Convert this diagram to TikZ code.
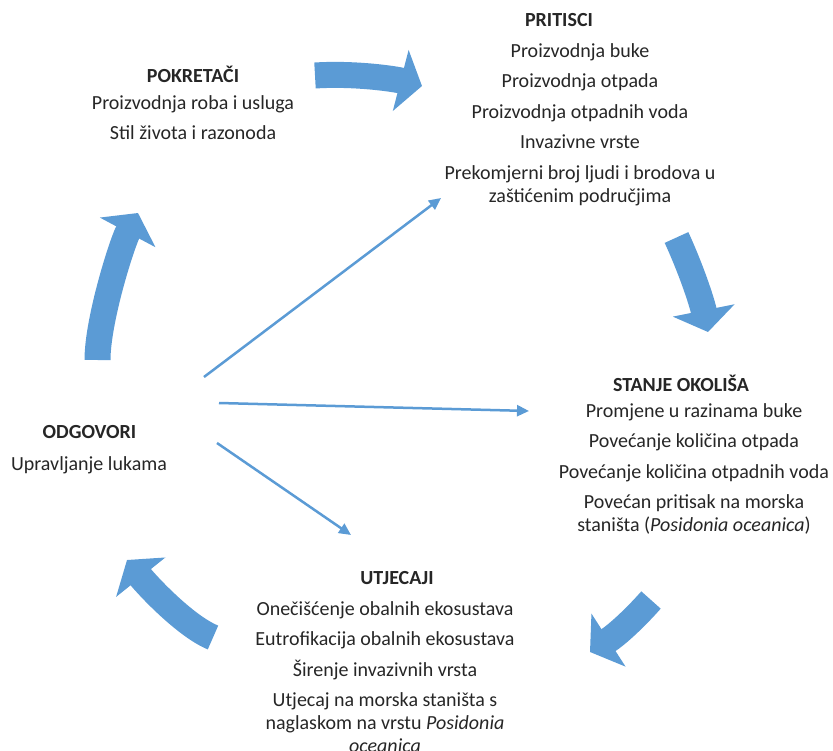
\documentclass[tikz,border=0pt]{standalone}
\usepackage{fontspec}
\setmainfont{Carlito}
\usetikzlibrary{positioning,arrows.meta}
\definecolor{CycBlue}{HTML}{5B9BD5}
\definecolor{TxtGray}{HTML}{262626}

\begin{document}
\begin{tikzpicture}[x=1pt, y=-1pt,
  ttl/.style   = {font=\fontsize{20}{23}\selectfont\bfseries, text=TxtGray,
                  inner sep=0pt, anchor=north},
  body/.style  = {font=\fontsize{20}{23}\selectfont, text=TxtGray,
                  align=center, inner sep=0pt, anchor=north},
  cyc/.style   = {CycBlue, line width=26pt,
                  -{Triangle[length=22pt, width=62pt]}},
  resp/.style  = {CycBlue, line width=2.5pt,
                  -{Triangle[length=12pt, width=11pt]}}
]
  \useasboundingbox (0,0) rectangle (833,751);

  % text blocks
  \node[ttl]  (prit)  at (559,13.6)  {PRITISCI};
  \node[body] (pritB) at (580,43.3)  {Proizvodnja buke\\[7.5pt]
    Proizvodnja otpada\\[7.5pt] Proizvodnja otpadnih voda\\[7.5pt]
    Invazivne vrste\\[7.5pt] Prekomjerni broj ljudi i brodova u\\
    zaštićenim područjima};

  \node[ttl]  (pok)   at (193,65.6)  {POKRETAČI};
  \node[body] (pokB)  at (193,95.3)  {Proizvodnja roba i usluga\\[7.5pt]
    Stil života i razonoda};

  \node[ttl]  (stan)  at (681,374.6) {STANJE OKOLIŠA};
  \node[body] (stanB) at (694,403.3) {Promjene u razinama buke\\[7.5pt]
    Povećanje količina otpada\\[7.5pt] Povećanje količina otpadnih voda\\[7.5pt]
    Povećan pritisak na morska\\ staništa (\textit{Posidonia oceanica})};

  \node[ttl]  (odg)   at (89.5,425.6) {ODGOVORI};
  \node[body] (odgB)  at (89,456.3)  {Upravljanje lukama};

  \node[ttl]  (utj)   at (397,571.6) {UTJECAJI};
  \node[body] (utjB)  at (385,601.3) {Onečišćenje obalnih ekosustava\\[7.5pt]
    Eutrofikacija obalnih ekosustava\\[7.5pt] Širenje invazivnih vrsta\\[7.5pt]
    Utjecaj na morska staništa s\\ naglaskom na vrstu \textit{Posidonia}\\
    \textit{oceanica}};

  % ends of the cycle arrows
  \coordinate (c1s) at (315,75.5);  \coordinate (c1e) at (422,86);
  \coordinate (c2s) at (676.5,237.5); \coordinate (c2e) at (708,332);
  \coordinate (c3s) at (651,600);   \coordinate (c3e) at (590,652);
  \coordinate (c4s) at (213,637.5); \coordinate (c4e) at (127,560);
  \coordinate (c5s) at (97.5,360);  \coordinate (c5e) at (138,213);

  \draw[cyc] (c1s) .. controls (355,73) and (395,79) .. (c1e);
  \draw[cyc] (c2s) .. controls (691,269) and (702,302) .. (c2e);
  \draw[cyc] (c3s) .. controls (636,617) and (618,634) .. (c3e);
  \draw[cyc] (c4s) .. controls (185,626) and (147,585) .. (c4e);
  \draw[cyc] (c5s) .. controls (97.5,320) and (122,243) .. (c5e);

  % responses acting on the other stages
  \coordinate (o1) at (204,377); \coordinate (t1) at (441,198);
  \coordinate (o2) at (219,403); \coordinate (t2) at (529,411);
  \coordinate (o3) at (217,443); \coordinate (t3) at (351,535);
  \foreach \myi in {1,2,3}{
    \draw[resp] (o\myi) -- (t\myi);
  }
\end{tikzpicture}
\end{document}
